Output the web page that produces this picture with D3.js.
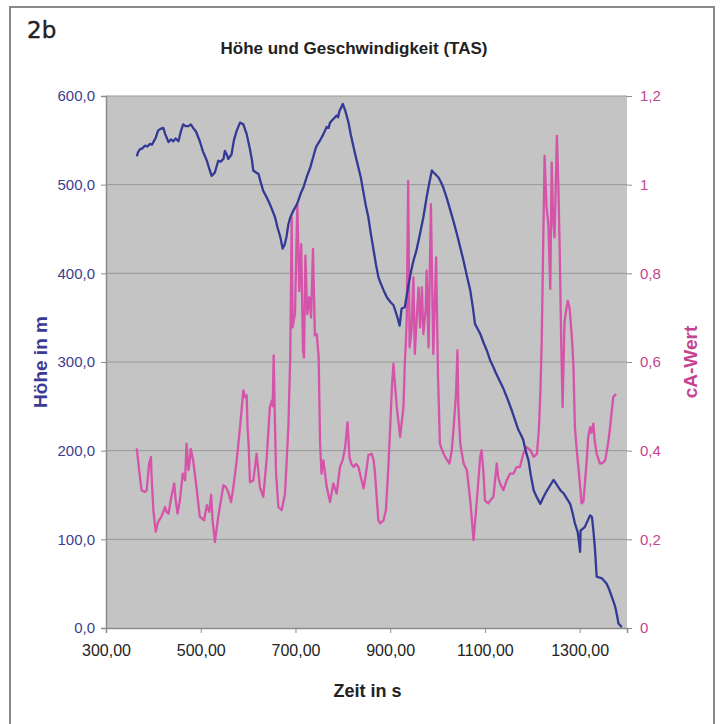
<!DOCTYPE html>
<html>
<head>
<meta charset="utf-8">
<script src="https://cdn.jsdelivr.net/npm/d3@7"></script>
<style>
  body { margin: 0; background: #fff; }
  text { font-family: "Liberation Sans", Arial, sans-serif; }
</style>
</head>
<body>
<div id="chart"></div>
<script>
// Höhe (blue) : time in s, height in m
const hoeheTime = [365, 368, 372, 377, 382, 387, 393, 397, 400, 405, 410, 415, 421, 425, 432, 437, 442, 447, 453, 458, 463, 468, 474, 479, 484, 490, 498, 505, 513, 518, 523, 527, 530, 537, 542, 548, 551, 555, 558, 565, 570, 576, 583, 590, 597, 604, 608, 611, 616, 622, 627, 632, 640, 646, 652, 657, 662, 668, 673, 677, 681, 685, 689, 694, 699, 703, 706, 711, 717, 724, 731, 738, 742, 745, 752, 755, 759, 766, 770, 773, 780, 787, 790, 793, 800, 806, 812, 817, 822, 828, 833, 838, 843, 848, 854, 859, 865, 870, 875, 879, 886, 893, 900, 907, 912, 915, 920, 924, 931, 935, 939, 944, 949, 955, 960, 965, 970, 977, 983, 988, 991, 995, 1002, 1007, 1012, 1020, 1027, 1034, 1041, 1048, 1055, 1062, 1069, 1075, 1079, 1085, 1090, 1097, 1104, 1111, 1118, 1122, 1130, 1139, 1148, 1157, 1164, 1171, 1176, 1181, 1186, 1192, 1197, 1203, 1210, 1217, 1224, 1231, 1238, 1245, 1250, 1255, 1260, 1266, 1273, 1280, 1285, 1290, 1296, 1298, 1301, 1302, 1307, 1311, 1316, 1322, 1326, 1329, 1332, 1336, 1341, 1347, 1352, 1357, 1362, 1368, 1372, 1375, 1379, 1382, 1389];
const hoeheValue = [532, 537, 540, 541, 544, 543, 546, 545, 548, 553, 561, 563, 564, 557, 548, 551, 549, 552, 549, 560, 568, 566, 566, 568, 564, 560, 549, 537, 527, 518, 510, 512, 514, 527, 526, 529, 538, 534, 529, 534, 550, 561, 570, 568, 557, 540, 528, 516, 514, 512, 502, 493, 485, 478, 470, 463, 452, 441, 428, 432, 441, 455, 463, 469, 474, 478, 482, 490, 497, 509, 519, 532, 540, 544, 550, 553, 557, 565, 564, 570, 574, 578, 576, 583, 591, 582, 570, 556, 544, 530, 519, 508, 493, 478, 463, 445, 426, 410, 396, 390, 381, 373, 368, 364, 356, 351, 341, 360, 362, 375, 388, 402, 414, 425, 437, 450, 463, 486, 503, 516, 514, 512, 508, 503, 497, 484, 471, 458, 444, 429, 414, 397, 381, 360, 343, 337, 332, 322, 313, 302, 294, 289, 280, 270, 258, 245, 234, 223, 218, 212, 200, 189, 172, 155, 147, 140, 148, 155, 161, 167, 163, 159, 155, 152, 146, 140, 130, 118, 108, 100, 86, 110, 112, 114, 120, 127, 125, 110, 92, 58, 57, 56, 53, 50, 44, 35, 29, 24, 14, 5, 1];

// cA-Wert (magenta) : time in s, value
const caTime = [365, 370, 375, 382, 386, 391, 395, 396, 400, 405, 410, 417, 421, 425, 428, 432, 438, 444, 447, 451, 456, 462, 467, 470, 474, 476, 479, 484, 491, 498, 507, 513, 518, 522, 525, 530, 537, 543, 548, 553, 558, 564, 569, 576, 583, 590, 594, 597, 599, 601, 604, 611, 618, 625, 632, 639, 646, 650, 652, 654, 656, 659, 664, 671, 678, 685, 689, 692, 694, 699, 704, 708, 712, 716, 718, 721, 725, 729, 733, 737, 741, 745, 749, 752, 755, 759, 766, 773, 780, 787, 794, 800, 805, 810, 814, 818, 823, 828, 833, 838, 844, 849, 854, 861, 865, 868, 872, 875, 879, 886, 891, 896, 900, 904, 907, 910, 914, 921, 928, 931, 933, 935, 938, 941, 945, 949, 952, 956, 960, 963, 967, 970, 975, 977, 981, 986, 991, 997, 1001, 1005, 1010, 1016, 1025, 1030, 1034, 1039, 1042, 1044, 1048, 1055, 1062, 1069, 1076, 1083, 1090, 1093, 1097, 1100, 1107, 1113, 1118, 1122, 1125, 1128, 1132, 1139, 1146, 1153, 1160, 1167, 1174, 1181, 1188, 1196, 1203, 1210, 1214, 1217, 1220, 1222, 1226, 1230, 1234, 1238, 1241, 1244, 1247, 1252, 1255, 1258, 1261, 1264, 1268, 1272, 1275, 1279, 1284, 1287, 1290, 1294, 1298, 1301, 1304, 1308, 1315, 1318, 1322, 1325, 1329, 1332, 1336, 1343, 1348, 1354, 1360, 1364, 1368, 1371, 1377];
const caValue = [0.405, 0.356, 0.311, 0.307, 0.311, 0.371, 0.386, 0.348, 0.266, 0.217, 0.239, 0.251, 0.262, 0.273, 0.262, 0.258, 0.296, 0.326, 0.29, 0.258, 0.288, 0.348, 0.333, 0.416, 0.356, 0.37, 0.404, 0.378, 0.318, 0.251, 0.243, 0.277, 0.262, 0.30, 0.243, 0.194, 0.251, 0.29, 0.322, 0.318, 0.307, 0.284, 0.318, 0.378, 0.453, 0.536, 0.52, 0.525, 0.45, 0.416, 0.329, 0.333, 0.393, 0.318, 0.296, 0.378, 0.498, 0.513, 0.50, 0.615, 0.50, 0.35, 0.273, 0.266, 0.303, 0.453, 0.61, 0.926, 0.678, 0.709, 0.956, 0.76, 0.866, 0.626, 0.61, 0.84, 0.708, 0.746, 0.70, 0.855, 0.66, 0.663, 0.611, 0.416, 0.348, 0.378, 0.318, 0.284, 0.326, 0.303, 0.363, 0.38, 0.408, 0.464, 0.386, 0.37, 0.363, 0.37, 0.363, 0.34, 0.315, 0.35, 0.39, 0.393, 0.378, 0.348, 0.288, 0.243, 0.236, 0.243, 0.266, 0.36, 0.453, 0.55, 0.596, 0.55, 0.498, 0.431, 0.498, 0.60, 0.641, 0.70, 1.008, 0.633, 0.671, 0.791, 0.618, 0.70, 0.768, 0.678, 0.768, 0.663, 0.72, 0.806, 0.633, 0.956, 0.618, 0.836, 0.566, 0.416, 0.40, 0.386, 0.371, 0.40, 0.453, 0.528, 0.626, 0.50, 0.416, 0.371, 0.356, 0.288, 0.198, 0.288, 0.386, 0.401, 0.35, 0.288, 0.281, 0.29, 0.296, 0.34, 0.371, 0.34, 0.326, 0.311, 0.333, 0.348, 0.348, 0.363, 0.363, 0.393, 0.408, 0.401, 0.386, 0.393, 0.45, 0.528, 0.65, 0.79, 1.065, 0.95, 0.911, 0.765, 1.05, 0.92, 0.881, 1.11, 1.0, 0.85, 0.65, 0.498, 0.69, 0.72, 0.738, 0.72, 0.65, 0.588, 0.453, 0.40, 0.356, 0.32, 0.281, 0.285, 0.378, 0.43, 0.453, 0.44, 0.461, 0.42, 0.393, 0.371, 0.372, 0.378, 0.416, 0.45, 0.491, 0.521, 0.528];

const xTicks = [300, 500, 700, 900, 1100, 1300];
const hoeheTicks = [0, 100, 200, 300, 400, 500, 600];
const caTicks = [0, 0.2, 0.4, 0.6, 0.8, 1, 1.2];

const W = 721, H = 724;
const margin = { top: 96, right: 94, bottom: 96, left: 106 };
const width = W - margin.left - margin.right;
const height = H - margin.top - margin.bottom;

const blue = "#333a96";
const pink = "#d653aa";

const root = d3.select("#chart").append("svg")
  .attr("width", W)
  .attr("height", H);

// outer frame
root.append("rect")
  .attr("x", 10).attr("y", 7)
  .attr("width", 704).attr("height", 740)
  .attr("fill", "none")
  .attr("stroke", "#8a8a8a")
  .attr("stroke-width", 2);

root.append("text")
  .attr("x", 27).attr("y", 38)
  .style("font-family", "'DejaVu Sans', sans-serif")
  .style("font-size", "23px")
  .attr("fill", "#222")
  .attr("stroke", "#222")
  .attr("stroke-width", 0.4)
  .text("2b");

root.append("text")
  .attr("x", 354).attr("y", 54)
  .attr("text-anchor", "middle")
  .style("font-size", "17px")
  .style("font-weight", "bold")
  .attr("fill", "#222")
  .text("Höhe und Geschwindigkeit (TAS)");

const svg = root.append("g")
  .attr("transform", `translate(${margin.left},${margin.top})`);

const x = d3.scaleLinear().domain([300, 1400]).range([0, width]);
const yH = d3.scaleLinear().domain([0, 600]).range([height, 0]);
const yC = d3.scaleLinear().domain([0, 1.2]).range([height, 0]);

svg.append("rect")
  .attr("width", width).attr("height", height)
  .attr("fill", "#c4c4c4");

// gridlines
svg.append("g")
  .selectAll("line")
  .data(hoeheTicks.filter(d => d > 0))
  .enter().append("line")
  .attr("x1", 0).attr("x2", width)
  .attr("y1", d => yH(d)).attr("y2", d => yH(d))
  .attr("stroke", "#979797")
  .attr("stroke-width", 1);

const fmt1 = d3.format(".1f");
const fmt2 = d3.format(".2f");

// left axis
const gL = svg.append("g")
  .call(d3.axisLeft(yH).tickValues(hoeheTicks).tickSize(5).tickPadding(6)
    .tickFormat(d => fmt1(d).replace(".", ",")));
gL.select(".domain").attr("stroke", "#8c8c8c").attr("stroke-width", 1.5);
gL.selectAll(".tick line").attr("stroke", "#8c8c8c");
gL.selectAll(".tick text")
  .style("font-size", "15px")
  .style("font-family", "'Liberation Sans', Arial, sans-serif")
  .attr("fill", "#3d3d8f");

// right axis
const gR = svg.append("g")
  .attr("transform", `translate(${width},0)`)
  .call(d3.axisRight(yC).tickValues(caTicks).tickSize(5).tickPadding(8)
    .tickFormat(d => String(+d.toFixed(1)).replace(".", ",")));
gR.select(".domain").remove();
gR.selectAll(".tick line").attr("stroke", "#8c8c8c");
gR.selectAll(".tick text")
  .style("font-size", "15px")
  .style("font-family", "'Liberation Sans', Arial, sans-serif")
  .attr("fill", "#c4448f");

// bottom axis
const gB = svg.append("g")
  .attr("transform", `translate(0,${height})`)
  .call(d3.axisBottom(x).tickValues(xTicks).tickSize(5).tickPadding(12)
    .tickFormat(d => fmt2(d).replace(".", ",")));
gB.select(".domain").attr("stroke", "#8c8c8c").attr("stroke-width", 1.5);
gB.selectAll(".tick line").attr("stroke", "#8c8c8c");
gB.selectAll(".tick text")
  .style("font-size", "16px")
  .style("font-family", "'Liberation Sans', Arial, sans-serif")
  .attr("fill", "#222");

// lines
const hoeheData = hoeheTime.map((t, i) => ({ t: t, v: hoeheValue[i] }));
const caData = caTime.map((t, i) => ({ t: t, v: caValue[i] }));

svg.append("path")
  .datum(caData)
  .attr("fill", "none")
  .attr("stroke", pink)
  .attr("stroke-width", 2.3)
  .attr("stroke-linejoin", "round")
  .attr("d", d3.line().x(d => x(d.t)).y(d => yC(d.v)));

svg.append("path")
  .datum(hoeheData)
  .attr("fill", "none")
  .attr("stroke", blue)
  .attr("stroke-width", 2.3)
  .attr("stroke-linejoin", "round")
  .attr("d", d3.line().x(d => x(d.t)).y(d => yH(d.v)));

// axis titles
root.append("text")
  .attr("transform", `translate(47,${margin.top + height / 2}) rotate(-90)`)
  .attr("text-anchor", "middle")
  .style("font-size", "19px")
  .style("font-weight", "bold")
  .attr("fill", "#3b3b95")
  .text("Höhe in m");

root.append("text")
  .attr("transform", `translate(697,${margin.top + height / 2}) rotate(-90)`)
  .attr("text-anchor", "middle")
  .style("font-size", "19px")
  .style("font-weight", "bold")
  .attr("fill", "#c4448f")
  .text("cA-Wert");

root.append("text")
  .attr("x", margin.left + width / 2 + 1).attr("y", 697)
  .attr("text-anchor", "middle")
  .style("font-size", "18px")
  .style("font-weight", "bold")
  .attr("fill", "#222")
  .text("Zeit in s");
</script>
</body>
</html>
